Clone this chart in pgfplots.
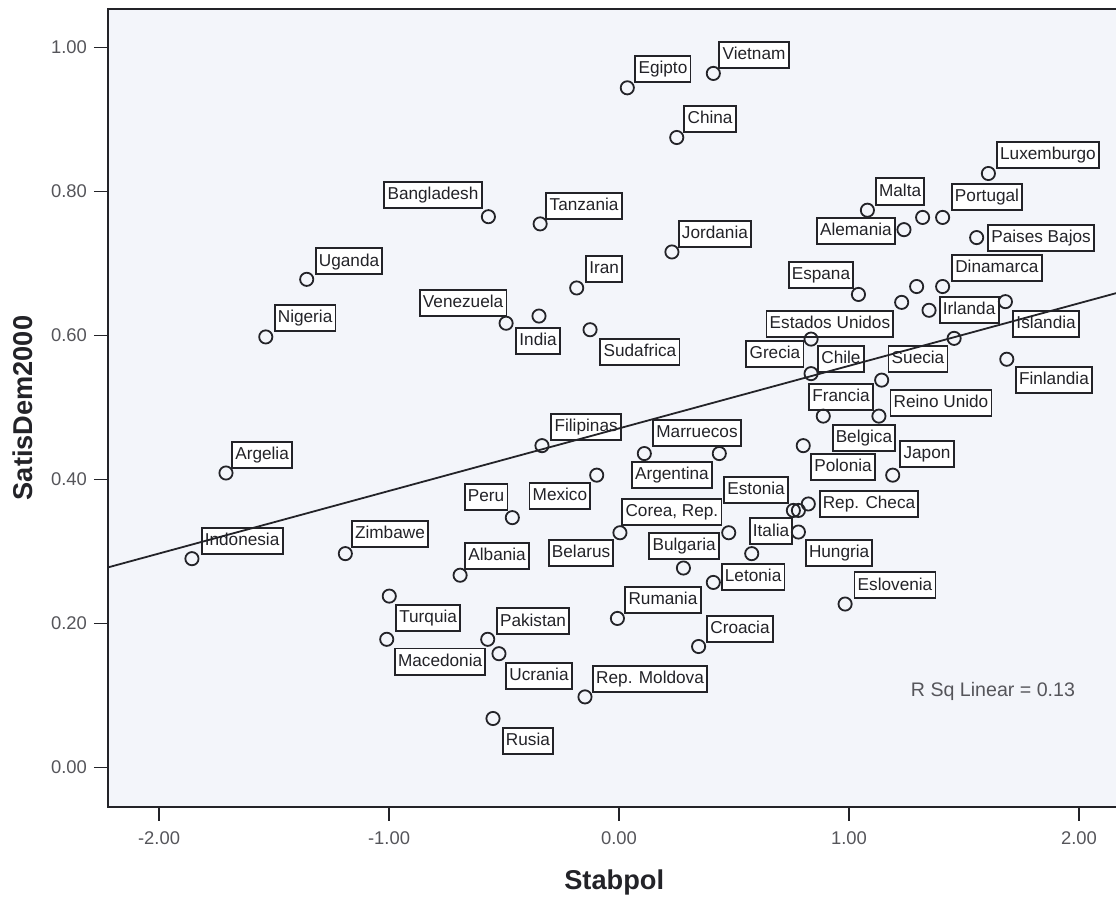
\documentclass[border=0pt]{standalone}
\usepackage{pgfplots}
\pgfplotsset{compat=1.18}
\usepackage{fontspec}
\setmainfont{Liberation Sans}
\definecolor{bgc}{RGB}{243,245,250}
\definecolor{ink}{RGB}{35,35,40}
\definecolor{tickc}{RGB}{85,85,90}
\pgfplotstableread{
x y
-1.358 0.678
-0.568 0.765
-0.343 0.755
0.036 0.944
0.410 0.964
0.251 0.875
0.230 0.716
-0.184 0.666
1.606 0.825
1.080 0.774
1.320 0.764
1.407 0.764
1.239 0.747
1.555 0.736
1.041 0.657
1.294 0.668
1.407 0.668
1.229 0.646
1.348 0.635
1.680 0.647
1.457 0.596
0.835 0.595
0.835 0.547
1.686 0.567
1.142 0.538
0.888 0.488
1.130 0.488
0.801 0.447
1.190 0.406
0.823 0.366
0.758 0.357
0.780 0.357
0.780 0.327
0.983 0.227
-1.536 0.598
-1.709 0.409
-1.857 0.290
-1.190 0.297
-0.691 0.267
-0.335 0.447
0.110 0.436
0.436 0.436
-0.097 0.406
-0.464 0.347
0.004 0.326
0.477 0.326
0.280 0.277
0.577 0.297
0.410 0.257
-0.007 0.207
-0.571 0.178
-0.522 0.158
0.346 0.168
-0.999 0.238
-1.010 0.178
-0.148 0.098
-0.548 0.068
-0.491 0.617
-0.348 0.627
-0.126 0.608
}\pts
\begin{document}
\begin{tikzpicture}[lbl/.style={draw=ink, line width=0.95pt, fill=white, text=ink,
  font=\fontsize{8.6}{10}\selectfont, inner xsep=1.6pt, inner ysep=2.3pt,
  text height=6.6pt, text depth=1.9pt}]
\begin{axis}[
  set layers=standard,
  scale only axis,
  width=506.2pt, height=399pt,
  xmin=-2.222, xmax=2.18, ymin=-0.0549, ymax=1.0535,
  xtick={-2,-1,0,1,2}, ytick={0,0.2,0.4,0.6,0.8,1.0},
  xtick pos=bottom, ytick pos=left,
  tick align=outside, major tick length=7pt,
  tick style={draw=ink, line width=0.6pt},
  axis line style={draw=ink, line width=0.75pt},
  axis background/.style={fill=bgc},
  /pgf/number format/assume math mode=true,
  /pgf/number format/.cd, fixed, fixed zerofill, precision=2, /pgfplots/.cd,
  tick label style={font=\fontsize{9.2}{11}\selectfont, text=tickc},
  xticklabel style={yshift=-2pt},
  xlabel={Stabpol}, ylabel={SatisDem2000},
  label style={font=\bfseries\fontsize{13.6}{16}\selectfont, text=ink},
  xlabel style={at={(axis description cs:0.5,0)}, anchor=center, yshift=-37.5pt},
  ylabel style={at={([xshift=-42.5pt]axis description cs:0,0.5)}, anchor=center, rotate=0},
  clip=false,
]
\addplot[only marks, mark=o, mark size=3.3pt, mark options={draw=ink, line width=0.9pt}] table[x=x,y=y] {\pts};
\addplot[ink, line width=0.9pt, on layer=axis foreground] coordinates {(-2.222,0.2779) (2.18,0.6604)};
\node[lbl] at (axis cs:-0.809,0.795) {Bangladesh};
\node[lbl] at (axis cs:-1.174,0.703) {Uganda};
\node[lbl] at (axis cs:0.191,0.970) {Egipto};
\node[lbl] at (axis cs:0.587,0.990) {Vietnam};
\node[lbl] at (axis cs:0.396,0.901) {China};
\node[lbl] at (axis cs:-0.152,0.780) {Tanzania};
\node[lbl] at (axis cs:0.417,0.741) {Jordania};
\node[lbl] at (axis cs:-0.065,0.692) {Iran};
\node[lbl] at (axis cs:1.865,0.851) {Luxemburgo};
\node[lbl] at (axis cs:1.222,0.800) {Malta};
\node[lbl] at (axis cs:1.600,0.792) {Portugal};
\node[lbl] at (axis cs:1.030,0.745) {Alemania};
\node[lbl] at (axis cs:1.835,0.735) {Paises Bajos};
\node[lbl] at (axis cs:1.643,0.694) {Dinamarca};
\node[lbl] at (axis cs:0.878,0.684) {Espana};
\node[lbl] at (axis cs:1.522,0.635) {Irlanda};
\node[lbl] at (axis cs:1.857,0.616) {Islandia};
\node[lbl] at (axis cs:0.917,0.616) {Estados Unidos};
\node[lbl] at (axis cs:1.300,0.567) {Suecia};
\node[lbl] at (axis cs:0.965,0.567) {Chile};
\node[lbl] at (axis cs:0.678,0.574) {Grecia};
\node[lbl] at (axis cs:1.891,0.538) {Finlandia};
\node[lbl] at (axis cs:0.965,0.515) {Francia};
\node[lbl] at (axis cs:1.400,0.506) {Reino Unido};
\node[lbl] at (axis cs:1.065,0.458) {Belgica};
\node[lbl] at (axis cs:1.339,0.435) {Japon};
\node[lbl] at (axis cs:0.974,0.417) {Polonia};
\node[lbl] at (axis cs:1.087,0.366) {Rep. Checa};
\node[lbl] at (axis cs:0.957,0.298) {Hungria};
\node[lbl] at (axis cs:1.200,0.253) {Eslovenia};
\node[lbl] at (axis cs:-1.365,0.624) {Nigeria};
\node[lbl] at (axis cs:-0.678,0.645) {Venezuela};
\node[lbl] at (axis cs:-1.552,0.434) {Argelia};
\node[lbl] at (axis cs:-1.639,0.315) {Indonesia};
\node[lbl] at (axis cs:-0.996,0.324) {Zimbawe};
\node[lbl] at (axis cs:-0.143,0.473) {Filipinas};
\node[lbl] at (axis cs:0.339,0.465) {Marruecos};
\node[lbl] at (axis cs:0.230,0.406) {Argentina};
\node[lbl] at (axis cs:-0.578,0.376) {Peru};
\node[lbl] at (axis cs:-0.257,0.377) {Mexico};
\node[lbl] at (axis cs:0.596,0.385) {Estonia};
\node[lbl] at (axis cs:0.230,0.355) {Corea, Rep.};
\node[lbl] at (axis cs:-0.530,0.294) {Albania};
\node[lbl] at (axis cs:-0.165,0.298) {Belarus};
\node[lbl] at (axis cs:0.283,0.308) {Bulgaria};
\node[lbl] at (axis cs:0.661,0.328) {Italia};
\node[lbl] at (axis cs:0.583,0.265) {Letonia};
\node[lbl] at (axis cs:0.191,0.233) {Rumania};
\node[lbl] at (axis cs:-0.374,0.203) {Pakistan};
\node[lbl] at (axis cs:0.526,0.192) {Croacia};
\node[lbl] at (axis cs:-0.830,0.208) {Turquia};
\node[lbl] at (axis cs:-0.778,0.147) {Macedonia};
\node[lbl] at (axis cs:-0.348,0.127) {Ucrania};
\node[lbl] at (axis cs:0.135,0.123) {Rep. Moldova};
\node[lbl] at (axis cs:-0.396,0.037) {Rusia};
\node[lbl] at (axis cs:0.091,0.577) {Sudafrica};
\node[lbl] at (axis cs:-0.352,0.592) {India};
\node[text=tickc, font=\fontsize{9.8}{12}\selectfont] at (axis cs:1.626,0.105) {R Sq Linear = 0.13};
\end{axis}
\pgfresetboundingbox
\path[use as bounding box] (-54pt,-45.5pt) rectangle (504pt,403.5pt);
\end{tikzpicture}
\end{document}
